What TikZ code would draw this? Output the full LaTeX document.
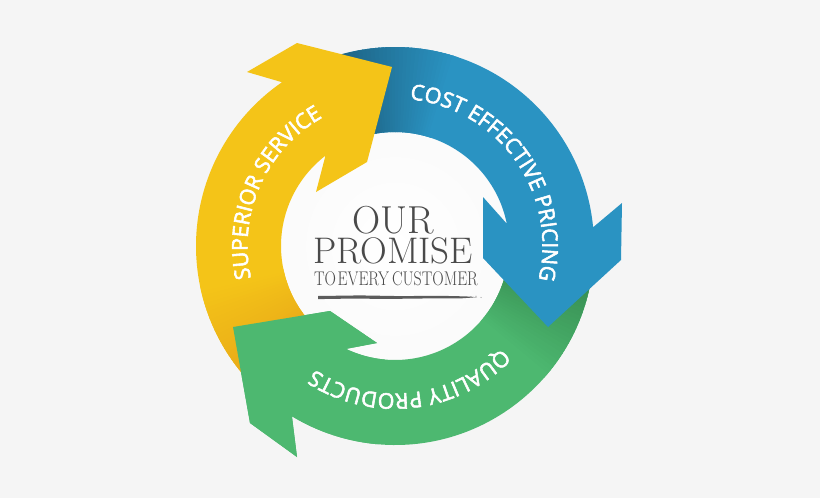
\documentclass[tikz,border=0pt]{standalone}
\usepackage{fontspec}
\usepackage{graphicx}
\usetikzlibrary{decorations.text}
\newfontfamily\arrowfont{Open Sans}[FakeBold=2.6]
\definecolor{bgc}{HTML}{F5F5F5}
\definecolor{ylw}{HTML}{F4C418}
\definecolor{ylwdark}{HTML}{E9AA18}
\definecolor{blu}{HTML}{2A93C2}
\definecolor{bludark}{HTML}{1D6283}
\definecolor{grn}{HTML}{4DB870}
\definecolor{grndark}{HTML}{33874D}
\definecolor{txtgray}{HTML}{4A4A4A}
\newcommand\arrowtxt{\arrowfont\fontsize{21.5}{21.5}\selectfont\color{white}}
\tikzset{
  centertext/.style={anchor=base, inner sep=0pt, text=txtgray},
  ringtext/.style={decorate, decoration={text along path, text align=center, text={|\arrowtxt|#1}}}
}
\begin{document}
\begin{tikzpicture}[x=1pt,y=1pt]
\fill[bgc] (0,0) rectangle (820,-498);
\begin{scope}[shift={(395,-246)}]
  \shade[inner color=white, outer color=white!96!gray] (0,0) circle[radius=130];
  % green arrow
  \fill[grn] (-5:199) arc[start angle=-5,end angle=-121.2,radius=199] -- (-98,-211) -- (-145,-177) -- (-162,-81) -- (-65,-65) -- (-18,-97) -- (-115.5:114) arc[start angle=-115.5,end angle=-5,radius=114] -- cycle;
  \foreach \i in {0,...,29} {
    \pgfmathsetmacro\aa{-5-\i*1.2}
    \pgfmathsetmacro\ab{\aa-1.6}
    \pgfmathsetmacro\pp{100*\i/29}
    \fill[grn!\pp!grndark] (\aa:199) arc[start angle=\aa,end angle=\ab,radius=199] -- (\ab:114) arc[start angle=\ab,end angle=\aa,radius=114] -- cycle;
  }
  % blue arrow
  \fill[blu] (108:199) arc[start angle=108,end angle=5.4,radius=199] -- (227,43) -- (226,-14) -- (153,-81) -- (88,-12) -- (88,49) -- (11.3:114) arc[start angle=11.3,end angle=108,radius=114] -- cycle;
  \foreach \i in {0,...,29} {
    \pgfmathsetmacro\aa{108-\i*1.2}
    \pgfmathsetmacro\ab{\aa-1.6}
    \pgfmathsetmacro\pp{100*\i/29}
    \fill[blu!\pp!bludark] (\aa:199) arc[start angle=\aa,end angle=\ab,radius=199] -- (\ab:114) arc[start angle=\ab,end angle=\aa,radius=114] -- cycle;
  }
  % yellow arrow
  \fill[ylw] (222:199) arc[start angle=222,end angle=124.6,radius=199] -- (-148,174) -- (-98,203) -- (-3,179) -- (-28,84) -- (-79,54) -- (127.6:114) arc[start angle=127.6,end angle=222,radius=114] -- cycle;
  \foreach \i in {0,...,24} {
    \pgfmathsetmacro\aa{222-\i*1.2}
    \pgfmathsetmacro\ab{\aa-1.6}
    \pgfmathsetmacro\pp{100*\i/24}
    \fill[ylw!\pp!ylwdark] (\aa:199) arc[start angle=\aa,end angle=\ab,radius=199] -- (\ab:114) arc[start angle=\ab,end angle=\aa,radius=114] -- cycle;
  }
  % green head on top of yellow tail
  \fill[grn] (-95:199) arc[start angle=-95,end angle=-121.2,radius=199] -- (-98,-211) -- (-145,-177) -- (-162,-81) -- (-65,-65) -- (-18,-97) -- (-115.5:114) arc[start angle=-115.5,end angle=-95,radius=114] -- cycle;
  % texts on the ring
  \path[ringtext={COST EFFECTIVE PRICING}] (95.5:147.5) arc[start angle=95.5,end angle=-24.5,radius=147.5];
  \path[ringtext={SUPERIOR SERVICE}] (216:147.5) arc[start angle=216,end angle=96,radius=147.5];
  \path[ringtext={QUALITY PRODUCTS}] (-23.5:147.5) arc[start angle=-23.5,end angle=-143.5,radius=147.5];
\end{scope}
% centre text
\node[centertext, font=\fontsize{39}{40}\selectfont] (our) at (393,-233) {OUR};
\node[centertext, font=\fontsize{37}{38}\selectfont] (promise) at (393,-263) {PROMISE};
\node[centertext, font=\fontsize{19.8}{21}\selectfont] (every) at (396,-285) {\scalebox{0.8}[1]{TO\hspace{0.1em}EVERY\hspace{0.2em}CUSTOMER}};
% brush stroke
\fill[txtgray!90] (318,-296) -- (360,-295.4) -- (400,-296.1) -- (440,-295.8) -- (466,-296.4) -- (477,-297.2) -- (462,-298.3) -- (430,-298.4) -- (390,-298.9) -- (350,-298.6) -- (318,-299.1) -- cycle;
\fill[txtgray!60] (471,-297) circle[radius=0.8];
\fill[txtgray!60] (476,-296.3) circle[radius=0.6];
\fill[txtgray!60] (481,-297.4) circle[radius=0.6];
\end{tikzpicture}
\end{document}
